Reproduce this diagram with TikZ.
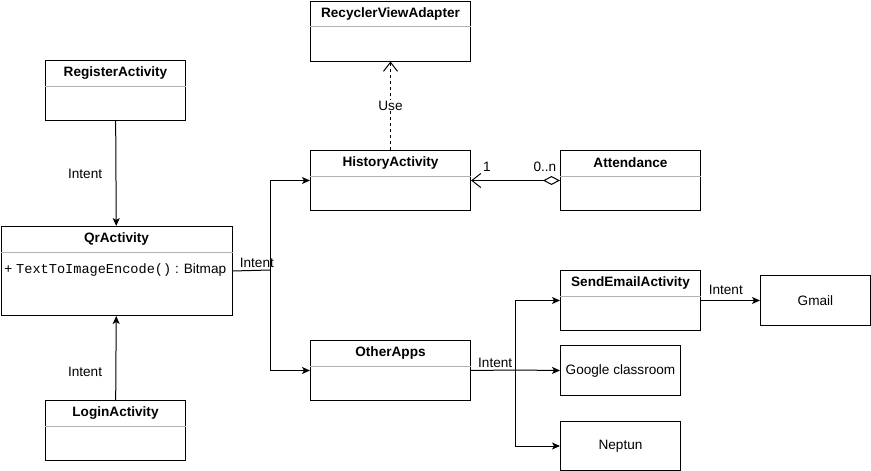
\documentclass[tikz,border=0pt]{standalone}
\usepackage{fontspec}
\setmainfont{Liberation Sans}
\newfontfamily\codefont{Liberation Mono}
\usepackage{tikz}
\usetikzlibrary{arrows.meta}

\begin{document}
\begin{tikzpicture}
[x=1pt,y=-1pt,line width=1pt,font=\fontsize{13.6}{15}\selectfont]
\tikzset{
	classbox/.style = {draw, rectangle, inner sep = 0, anchor = north west},
	classname/.style = {font = \fontsize{13.6}{15}\selectfont\bfseries},
	divider/.style = {draw = gray!60},
	appbox/.style = {draw, rectangle, inner sep = 0, anchor = north west},
	intent/.style = {-{Stealth[length=8pt,width=7pt,inset=2pt]}},
	uses/.style = {dashed, -{Straight Barb[length=9pt,width=14pt]}},
	aggr/.style = {{Straight Barb[length=9pt,width=14pt]}-{Diamond[open,length=17pt,width=9pt]}}
}
\useasboundingbox (0,0) rectangle (871,471);

% classes
\node(recycler) [classbox, minimum width=160pt, minimum height=60pt] at (310,0.5){};
\node(register) [classbox, minimum width=140pt, minimum height=60pt] at (45,60){};
\node(history) [classbox, minimum width=160pt, minimum height=60pt] at (310,150){};
\node(attendance) [classbox, minimum width=140pt, minimum height=60pt] at (560,150){};
\node(qr) [classbox, minimum width=231pt, minimum height=89pt] at (0.5,226){};
\node(sendemail) [classbox, minimum width=140pt, minimum height=60pt] at (560,270){};
\node(otherapps) [classbox, minimum width=160pt, minimum height=60pt] at (310,340){};
\node(login) [classbox, minimum width=140pt, minimum height=60pt] at (45,400){};

\foreach \c/\t in {recycler/RecyclerViewAdapter, register/RegisterActivity,
	history/HistoryActivity, attendance/Attendance, qr/QrActivity,
	sendemail/SendEmailActivity, otherapps/OtherApps, login/LoginActivity}{
	\node [classname] at ([yshift=-13pt]\c.north){\t};
	\draw [divider] ([yshift=-26pt]\c.north west) -- ([yshift=-26pt]\c.north east);
}
\node(qrmethod) [anchor=west, inner sep=0] at (4,270)
	{+ {\codefont\fontsize{13.6}{15}\selectfont TextToImageEncode()} : Bitmap};

% other apps
\node(gmail) [appbox, minimum width=110pt, minimum height=50pt] at (760,275){};
\node at (gmail.center){Gmail};
\node(classroom) [appbox, minimum width=120pt, minimum height=50pt] at (560,345){};
\node at (classroom.center){Google classroom};
\node(neptun) [appbox, minimum width=120pt, minimum height=49pt] at (560,421){};
\node at (neptun.center){Neptun};

% connectors
\coordinate(qrsplit) at (270,270);
\coordinate(appsplit) at (515,370);

\draw [intent] (register) -- node [left=10pt]{Intent} (qr);
\draw [intent] (login) -- node [pos=0.34, left=10pt]{Intent} (qr);
\draw (qr.east) -- node [pos=0.65, above=-1pt]{Intent} (qrsplit);
\draw [intent] (qrsplit) |- (history.west);
\draw [intent] (qrsplit) |- (otherapps.west);
\draw [uses] (history.north) -- node [fill=white, inner sep=1pt]{Use} (recycler.south);
\draw [aggr] (history.east) -- node [pos=0.18, above=5pt]{1}
	node [pos=0.83, above=5pt]{0..n} (attendance.west);
\draw (otherapps.east) -- node [pos=0.55, above=-1pt]{Intent} (appsplit);
\draw [intent] (appsplit) |- (sendemail.west);
\draw [intent] (appsplit) -- (classroom.west);
\draw [intent] (appsplit) |- (neptun.west);
\draw [intent] (sendemail.east) -- node [pos=0.42, above=2pt]{Intent} (gmail.west);

\end{tikzpicture}
\end{document}
